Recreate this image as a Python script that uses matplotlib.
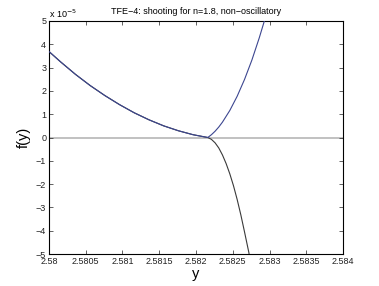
import matplotlib
matplotlib.use("Agg")
import matplotlib.pyplot as plt

plt.rcParams['font.family'] = ['Liberation Sans', 'DejaVu Sans']

# shared left branch (x, f in units of 1e-5)
x_left = [2.58000, 2.58016, 2.58036, 2.58056, 2.58076, 2.58096, 2.58116,
          2.58136, 2.58156, 2.58176, 2.58196, 2.58206, 2.58216]
f_left = [3.69, 3.24, 2.71, 2.23, 1.80, 1.41, 1.06, 0.76, 0.50, 0.29, 0.12, 0.06, 0.0]

# blue branch rising after the touch point
x_up = [2.58216, 2.58221, 2.58226, 2.58231, 2.58236, 2.58246, 2.58256,
        2.58266, 2.58276, 2.58286, 2.58293, 2.58295]
f_up = [0.0, 0.12, 0.27, 0.45, 0.66, 1.16, 1.77, 2.49, 3.32, 4.27, 5.0, 5.22]

# black branch falling after the touch point
x_down = [2.58216, 2.58221, 2.58226, 2.58231, 2.58236, 2.58241, 2.58246,
          2.58251, 2.58256, 2.58261, 2.58266, 2.58272, 2.58273]
f_down = [0.0, -0.08, -0.23, -0.45, -0.75, -1.12, -1.56, -2.07, -2.66,
          -3.32, -4.05, -4.95, -5.19]

xticks = [2.58, 2.5805, 2.581, 2.5815, 2.582, 2.5825, 2.583, 2.5835, 2.584]
xticklabels = ['2.58', '2.5805', '2.581', '2.5815', '2.582', '2.5825', '2.583', '2.5835', '2.584']
yticks = [-5, -4, -3, -2, -1, 0, 1, 2, 3, 4, 5]

fig = plt.figure(figsize=(3.79, 2.86), dpi=100)
ax = fig.add_axes([49/379, 32/286, 294/379, 233/286])

ax.axhline(0, color='#b0b0b0', lw=1.1, zorder=1)
ax.plot(x_left + x_down[1:], f_left + f_down[1:], color='#3a3a3a', lw=0.8, zorder=2)
ax.plot(x_left + x_up[1:], f_left + f_up[1:], color='#3c4690', lw=0.8, zorder=3)

ax.set_xlim(2.58, 2.584)
ax.set_ylim(-5, 5)
ax.set_xticks(xticks)
ax.set_xticklabels(xticklabels)
ax.set_yticks(yticks)
ax.set_yticklabels(['\u2212%d' % -t if t < 0 else '%d' % t for t in yticks])
ax.tick_params(direction='in', top=True, right=True, length=3, width=0.5,
               labelsize=6.5, pad=2, colors='#222222')
for s in ax.spines.values():
    s.set_linewidth(0.8)
ax.text(0.0, 1.005, 'x 10$^{\u22125}$', transform=ax.transAxes, fontsize=6.5,
        ha='left', va='bottom')
ax.set_title('TFE\u22124: shooting for n=1.8, non\u2212oscillatory', fontsize=6.5, pad=5)
ax.set_xlabel('y', fontsize=10.5, labelpad=1)
ax.set_ylabel('f(y)', fontsize=10.5, labelpad=4)

fig.savefig('out.png', dpi=100)
